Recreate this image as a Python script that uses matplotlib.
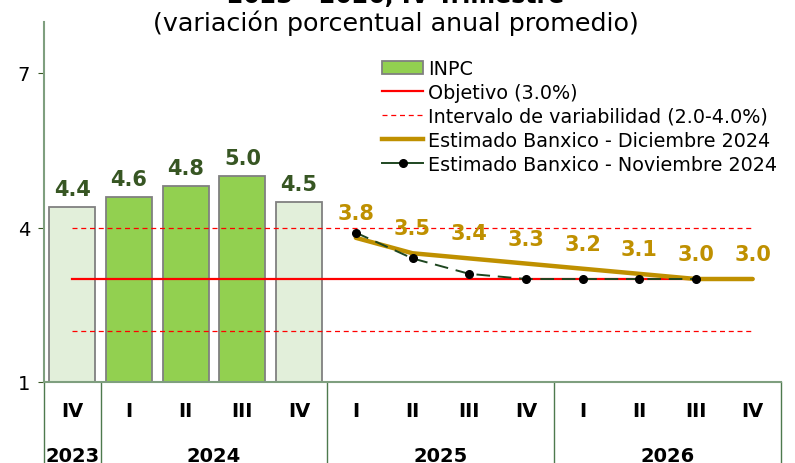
import numpy as np
import matplotlib
matplotlib.use("Agg")
import matplotlib.pyplot as plt
from matplotlib.patches import Patch
from matplotlib.lines import Line2D
import matplotlib.transforms as mtransforms

# data
quarters = ["IV", "I", "II", "III", "IV", "I", "II", "III", "IV", "I", "II", "III", "IV"]
years = ["2023", "2024", "2025", "2026"]
year_spans = [(0, 0), (1, 4), (5, 8), (9, 12)]
inpc = [4.4, 4.6, 4.8, 5.0, 4.5]
inpc_light = [True, False, False, False, True]
est_dic = [3.8, 3.5, 3.4, 3.3, 3.2, 3.1, 3.0, 3.0]
est_nov = [3.9, 3.4, 3.1, 3.0, 3.0, 3.0, 3.0]
objetivo = 3.0
intervalo = (2.0, 4.0)

GREEN = "#92D050"
LIGHT = "#E2EFDA"
DKGREEN = "#375623"
GOLD = "#BF9000"
SPINE = "#7F9F7F"

plt.rcParams["font.family"] = "DejaVu Sans"

fig = plt.figure(figsize=(7.95, 4.64), dpi=100)
ax = fig.add_axes([44 / 795, 1 - 383 / 464, (781 - 44) / 795, (383 - 22.5) / 464])

n = len(quarters)
x = np.arange(n)

# bars
xb = x[:len(inpc)]
colors = [LIGHT if l else GREEN for l in inpc_light]
ax.bar(xb, inpc, width=0.81, bottom=0, color=colors, edgecolor="#808080",
       linewidth=1.3, zorder=2)
for xi, v in zip(xb, inpc):
    ax.annotate(f"{v:.1f}", (xi, v), xytext=(0, 13), textcoords="offset points",
                ha="center", va="center", fontsize=15, fontweight="bold",
                color=DKGREEN)

# target lines
ax.plot([0, n - 1], [objetivo, objetivo], color="red", lw=1.6, zorder=3)
for lv in intervalo:
    ax.plot([0, n - 1], [lv, lv], color="red", lw=0.9, ls=(0, (4, 3)), zorder=3)

# forecasts
xd = x[5:5 + len(est_dic)]
ax.plot(xd, est_dic, color=GOLD, lw=3.2, solid_capstyle="round", zorder=4)
xn = x[5:5 + len(est_nov)]
ax.plot(xn, est_nov, color="#1E4620", lw=1.4, ls=(0, (7, 4)), marker="o",
        markersize=5.5, markerfacecolor="black", markeredgecolor="black", zorder=5)
for xi, v in zip(xd, est_dic):
    ax.annotate(f"{v:.1f}", (xi, v), xytext=(0, 18), textcoords="offset points",
                ha="center", va="center", fontsize=15, fontweight="bold",
                color=GOLD)

ax.set_xlim(-0.5, n - 0.5)
ax.set_ylim(1, 8)
ax.set_yticks([1, 4, 7])
ax.tick_params(axis="y", labelsize=14, length=4, color=DKGREEN, pad=6)
ax.set_xticks([])
for s in ["top", "right"]:
    ax.spines[s].set_visible(False)
ax.spines["left"].set_color(SPINE)
ax.spines["left"].set_linewidth(1.5)
ax.spines["bottom"].set_color(SPINE)
ax.spines["bottom"].set_linewidth(1.5)

# category table below axis
trans = mtransforms.blended_transform_factory(ax.transData, ax.transAxes)
for xi, q in zip(x, quarters):
    ax.text(xi, -0.08, q, transform=trans, ha="center", va="center",
            fontsize=14, fontweight="bold")
for (a, b), yr in zip(year_spans, years):
    ax.text((a + b) / 2, -0.2025, yr, transform=trans, ha="center", va="center",
            fontsize=14, fontweight="bold")
for sep in [-0.5, 0.5, 4.5, 8.5, 12.5]:
    ax.plot([sep, sep], [0, -0.25], transform=trans, color="#4E7A4E", lw=1.0,
            clip_on=False)

# legend
handles = [
    Patch(facecolor=GREEN, edgecolor="#808080", linewidth=1.3),
    Line2D([], [], color="red", lw=1.6),
    Line2D([], [], color="red", lw=0.9, ls=(0, (4, 3))),
    Line2D([], [], color=GOLD, lw=3.2),
    Line2D([], [], color="#1E4620", lw=1.4, marker="o", markersize=5.5,
           markerfacecolor="black", markeredgecolor="black"),
]
labels = ["INPC", "Objetivo (3.0%)", "Intervalo de variabilidad (2.0-4.0%)",
          "Estimado Banxico - Diciembre 2024", "Estimado Banxico - Noviembre 2024"]
fig.legend(handles, labels, loc="upper left", bbox_to_anchor=(369 / 795, 1 - 47 / 464),
           frameon=False, fontsize=13.8, handlelength=2.1, handletextpad=0.3,
           labelspacing=0.25, borderpad=0.2)

# title (first line cut off at the top, as in the source)
fig.text(396 / 795, 1 - 3 / 464, "2023 - 2026, IV Trimestre", ha="center",
         va="baseline", fontsize=17, fontweight="bold")
fig.text(396 / 795, 1 - 23 / 464, "(variación porcentual anual promedio)",
         ha="center", va="center", fontsize=18.3)

fig.savefig("out.png", dpi=100)
